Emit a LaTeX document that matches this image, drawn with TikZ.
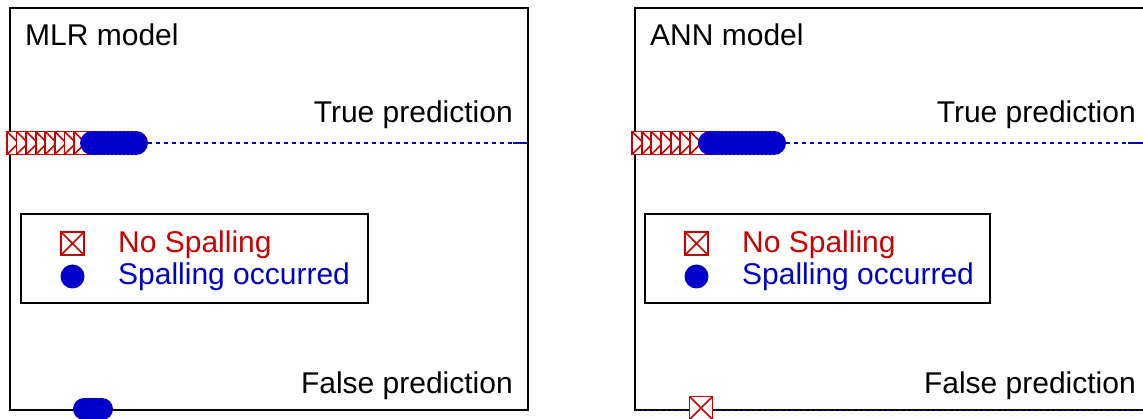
\documentclass[tikz,border=0pt]{standalone}
\usepackage{fontspec}
\setmainfont{Liberation Sans}
\definecolor{mred}{RGB}{204,0,0}
\definecolor{mblue}{RGB}{0,0,204}
\begin{document}
\begin{tikzpicture}[x=1pt,y=-1pt,
  frame/.style={line width=1.6pt,black},
  nospall/.style={draw=mred,fill=white,minimum size=23pt,inner sep=0pt,line width=1.8pt,
    path picture={\draw[mred,line width=1.6pt] (path picture bounding box.north west)--(path picture bounding box.south east)
      (path picture bounding box.south west)--(path picture bounding box.north east);}},
  spall/.style={circle,fill=mblue,minimum size=24pt,inner sep=0pt},
  predline/.style={mblue,line width=1.6pt,dash pattern=on 4pt off 4pt},
  lbl/.style={font=\fontsize{30}{35}\selectfont,inner sep=0pt},
  legbox/.style={draw=black,line width=1.6pt,minimum width=347pt,minimum height=89pt,inner sep=0pt,anchor=north west}
]
\useasboundingbox (0,0) rectangle (1143,419);
% ---------- left panel ----------
\draw[frame] (10,410) -- (10,8) -- (528,8) -- (528,410) -- cycle;
\node[lbl,anchor=base west] (mlr) at (25,46) {MLR model};
\node[lbl,anchor=base east] (ltrue) at (513,123) {True prediction};
\node[lbl,anchor=base east] (lfalse) at (513,393) {False prediction};
\coordinate (lend) at (528,143);
\foreach \i in {0,...,7} {\node[nospall] (lns\i) at (18.5+9.57*\i,143) {};}
\foreach \i in {0,...,11} {\node[spall] (lsp\i) at (92+4*\i,143) {};}
\draw[predline] (lsp11.east) -- (lend);
\draw[mblue,line width=1.6pt] (513,143) -- (lend);
\foreach \i in {0,...,6} {\node[spall,minimum size=22pt] (lfs\i) at (84+3*\i,409) {};}
% legend left
\node[legbox] (lleg) at (20,213) {};
\node[nospall] (llns) at (72.5,243.5) {};
\node[spall] (llsp) at (72.5,276.5) {};
\node[lbl,anchor=base west,text=mred] (llt1) at (118,253) {No Spalling};
\node[lbl,anchor=base west,text=mblue] (llt2) at (118,285) {Spalling occurred};
% ---------- right panel ----------
\draw[frame] (1143,8) -- (635,8) -- (635,410) -- (1143,410);
\draw[mblue,line width=1pt,dash pattern=on 3pt off 3pt] (635,410) -- (1143,410);
\node[lbl,anchor=base west] (ann) at (650,46) {ANN model};
\node[lbl,anchor=base east] (rtrue) at (1136,123) {True prediction};
\node[lbl,anchor=base east] (rfalse) at (1136,393) {False prediction};
\coordinate (rend) at (1143,143);
\foreach \i in {0,...,6} {\node[nospall] (rns\i) at (643.5+9.67*\i,143) {};}
\foreach \i in {0,...,16} {\node[spall] (rsp\i) at (710+4*\i,143) {};}
\draw[predline] (rsp16.east) -- (rend);
\draw[mblue,line width=1.6pt] (1128,143) -- (rend);
\node[nospall] (rfns) at (701,408) {};
% legend right
\node[legbox,minimum width=345pt] (rleg) at (644,213) {};
\node[nospall] (rlns) at (696.5,243.5) {};
\node[spall] (rlsp) at (696.5,276.5) {};
\node[lbl,anchor=base west,text=mred] (rlt1) at (742,253) {No Spalling};
\node[lbl,anchor=base west,text=mblue] (rlt2) at (742,285) {Spalling occurred};
\end{tikzpicture}
\end{document}
